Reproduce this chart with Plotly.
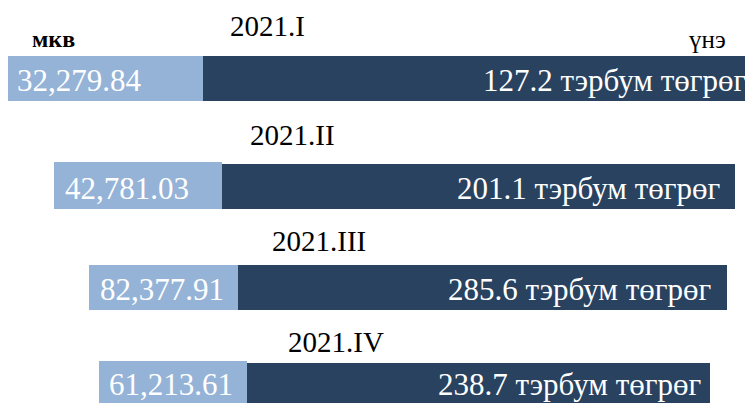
import plotly.graph_objects as go

# ---- data ----
quarters = ["2021.I", "2021.II", "2021.III", "2021.IV"]
mkb_values = [32279.84, 42781.03, 82377.91, 61213.61]
price_values = [127.2, 201.1, 285.6, 238.7]
unit_text = "тэрбум төгрөг"
left_label = "мкв"
right_label = "үнэ"

# ---- layout geometry (infographic, pixels) ----
light_left = [6, 54, 89, 99]
split = [203, 222, 238, 247]
dark_right = [760, 735, 727, 710]
light_top = [56, 162, 265, 361]
dark_top = [56, 164, 265, 363]
bar_bottom = [100.5, 209, 310, 412]
light_text_x = [15, 63, 98, 107]
dark_text_x = [748, 722, 713, 703]
text_y = [80, 188, 289, 384]
head_x = [267, 292, 319, 336]
head_y = [26, 135, 241, 342]

LIGHT = "#95B3D7"
DARK = "#284260"
FONT = "Liberation Serif, DejaVu Serif, serif"

# page body has an 8px margin: map reference pixel p to screen pixel p
OFF = 8

fig = go.Figure()
fig.add_trace(go.Bar(
    orientation="h",
    y=[(t + b) / 2 for t, b in zip(light_top, bar_bottom)],
    x=[s - l for s, l in zip(split, light_left)],
    base=light_left,
    width=[b - t for t, b in zip(light_top, bar_bottom)],
    marker=dict(color=LIGHT, line=dict(width=0)),
    hoverinfo="skip", showlegend=False,
))
fig.add_trace(go.Bar(
    orientation="h",
    y=[(t + b) / 2 for t, b in zip(dark_top, bar_bottom)],
    x=[r - s for r, s in zip(dark_right, split)],
    base=split,
    width=[b - t for t, b in zip(dark_top, bar_bottom)],
    marker=dict(color=DARK, line=dict(width=0)),
    hoverinfo="skip", showlegend=False,
))

ann = []
for i, q in enumerate(quarters):
    ann.append(dict(x=light_text_x[i], y=text_y[i], text=f"{mkb_values[i]:,.2f}",
                    xanchor="left", yanchor="middle", showarrow=False,
                    font=dict(family=FONT, size=31, color="white")))
    ann.append(dict(x=dark_text_x[i], y=text_y[i], text=f"{price_values[i]:.1f} {unit_text}",
                    xanchor="right", yanchor="middle", showarrow=False,
                    font=dict(family=FONT, size=31, color="white")))
    ann.append(dict(x=head_x[i], y=head_y[i], text=q,
                    xanchor="center", yanchor="middle", showarrow=False,
                    font=dict(family=FONT, size=29, color="black")))

ann.append(dict(x=53, y=39, text=f"<b>{left_label}</b>", xanchor="center", yanchor="middle",
                showarrow=False, font=dict(family=FONT, size=24, color="black")))
ann.append(dict(x=707, y=39, text=right_label, xanchor="center", yanchor="middle",
                showarrow=False, font=dict(family=FONT, size=25, color="black")))

fig.update_layout(
    width=753, height=403,
    margin=dict(l=0, r=0, t=0, b=0),
    paper_bgcolor="white", plot_bgcolor="white",
    barmode="overlay", bargap=0,
    xaxis=dict(range=[OFF, 753 + OFF], visible=False, fixedrange=True),
    yaxis=dict(range=[403 + OFF, OFF], visible=False, fixedrange=True),
    annotations=ann,
)
fig.write_html("out.html")
